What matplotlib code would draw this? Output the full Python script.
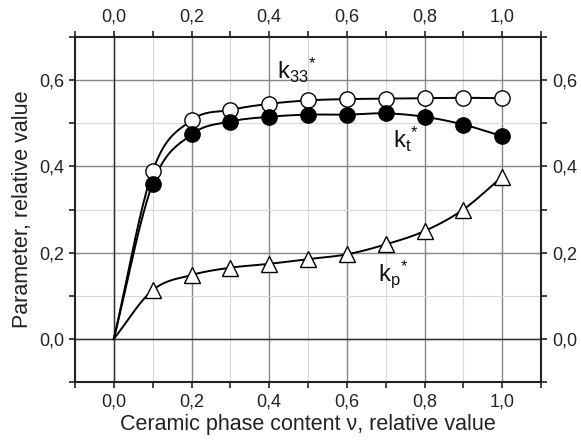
import numpy as np
import matplotlib
matplotlib.use('Agg')
import matplotlib.pyplot as plt
from matplotlib.ticker import MultipleLocator, FuncFormatter

plt.rcParams['font.family'] = ['Liberation Sans', 'DejaVu Sans']
plt.rcParams['mathtext.fontset'] = 'custom'
plt.rcParams['mathtext.rm'] = 'Liberation Sans'
plt.rcParams['mathtext.it'] = 'Liberation Sans:italic'

# ceramic phase content (0 = origin, no marker there)
v = [0.0, 0.1, 0.2, 0.3, 0.4, 0.5, 0.6, 0.7, 0.8, 0.9, 1.0]
k33 = [0.0, 0.389, 0.507, 0.531, 0.545, 0.553, 0.556, 0.557, 0.558, 0.559, 0.558]
kt = [0.0, 0.360, 0.474, 0.504, 0.515, 0.520, 0.520, 0.523, 0.515, 0.497, 0.470]
kp = [0.0, 0.113, 0.148, 0.165, 0.174, 0.185, 0.196, 0.219, 0.250, 0.300, 0.376]


def smooth(x, y, n=20):
    # Catmull-Rom curve through the points (for drawing only)
    x = np.asarray(x); y = np.asarray(y)
    px = np.concatenate([[2 * x[0] - x[1]], x, [2 * x[-1] - x[-2]]])
    py = np.concatenate([[2 * y[0] - y[1]], y, [2 * y[-1] - y[-2]]])
    xs, ys = [], []
    t = np.linspace(0, 1, n, endpoint=False)
    for i in range(1, len(px) - 2):
        for arr, out in ((px, xs), (py, ys)):
            p0, p1, p2, p3 = arr[i - 1], arr[i], arr[i + 1], arr[i + 2]
            out.extend(0.5 * (2 * p1 + (-p0 + p2) * t + (2 * p0 - 5 * p1 + 4 * p2 - p3) * t ** 2
                              + (-p0 + 3 * p1 - 3 * p2 + p3) * t ** 3))
    xs.append(x[-1]); ys.append(y[-1])
    return xs, ys


fig = plt.figure(figsize=(5.81, 4.45), dpi=100)
ax = fig.add_axes([75 / 581, 1 - 382 / 445, 466 / 581, 345 / 445])

ax.set_xlim(-0.1, 1.1)
ax.set_ylim(-0.1, 0.7)
ax.xaxis.set_major_locator(MultipleLocator(0.2))
ax.xaxis.set_minor_locator(MultipleLocator(0.1))
ax.yaxis.set_major_locator(MultipleLocator(0.2))
ax.yaxis.set_minor_locator(MultipleLocator(0.1))
comma = FuncFormatter(lambda val, pos: ('%.1f' % val).replace('.', ',').replace('-0,0', '0,0'))
ax.xaxis.set_major_formatter(comma)
ax.yaxis.set_major_formatter(comma)

ax.grid(which='major', color='#858585', linewidth=1.0)
ax.grid(which='minor', color='#d8d8d8', linewidth=0.8)
ax.set_axisbelow(True)
ax.axhline(0, color='#303030', linewidth=1.0, zorder=1)
ax.axvline(0, color='#303030', linewidth=1.0, zorder=1)

ax.tick_params(which='both', direction='out', top=True, right=True,
               labeltop=True, labelright=True, labelsize=13, colors='#222222',
               width=1.2, pad=4)
ax.tick_params(which='major', length=4)
ax.tick_params(which='minor', length=4)
for s in ax.spines.values():
    s.set_linewidth(1.5)
    s.set_color('#222222')

for yv, mk, fc in ((k33, 'o', 'white'), (kt, 'o', 'black'), (kp, '^', 'white')):
    sx, sy = smooth(v, yv)
    ax.plot(sx, sy, color='black', linewidth=1.4, zorder=3)
    ax.plot(v[1:], yv[1:], linestyle='none', marker=mk, markersize=11 if mk == 'o' else 12,
            markerfacecolor=fc, markeredgecolor='black', markeredgewidth=1.0, zorder=4)

ax.text(0.42, 0.603, r'k$_{\mathregular{33}}$$^{\mathregular{*}}$', fontsize=17, color='#111111')
ax.text(0.72, 0.443, r'k$_{\mathregular{t}}$$^{\mathregular{*}}$', fontsize=17, color='#111111')
ax.text(0.68, 0.134, r'k$_{\mathregular{p}}$$^{\mathregular{*}}$', fontsize=17, color='#111111')

ax.set_xlabel('Ceramic phase content \u03bd, relative value', fontsize=15.5, color='#222222', labelpad=3)
ax.set_ylabel('Parameter, relative value', fontsize=15.5, color='#222222', labelpad=4)

fig.savefig('out.png', dpi=100)
